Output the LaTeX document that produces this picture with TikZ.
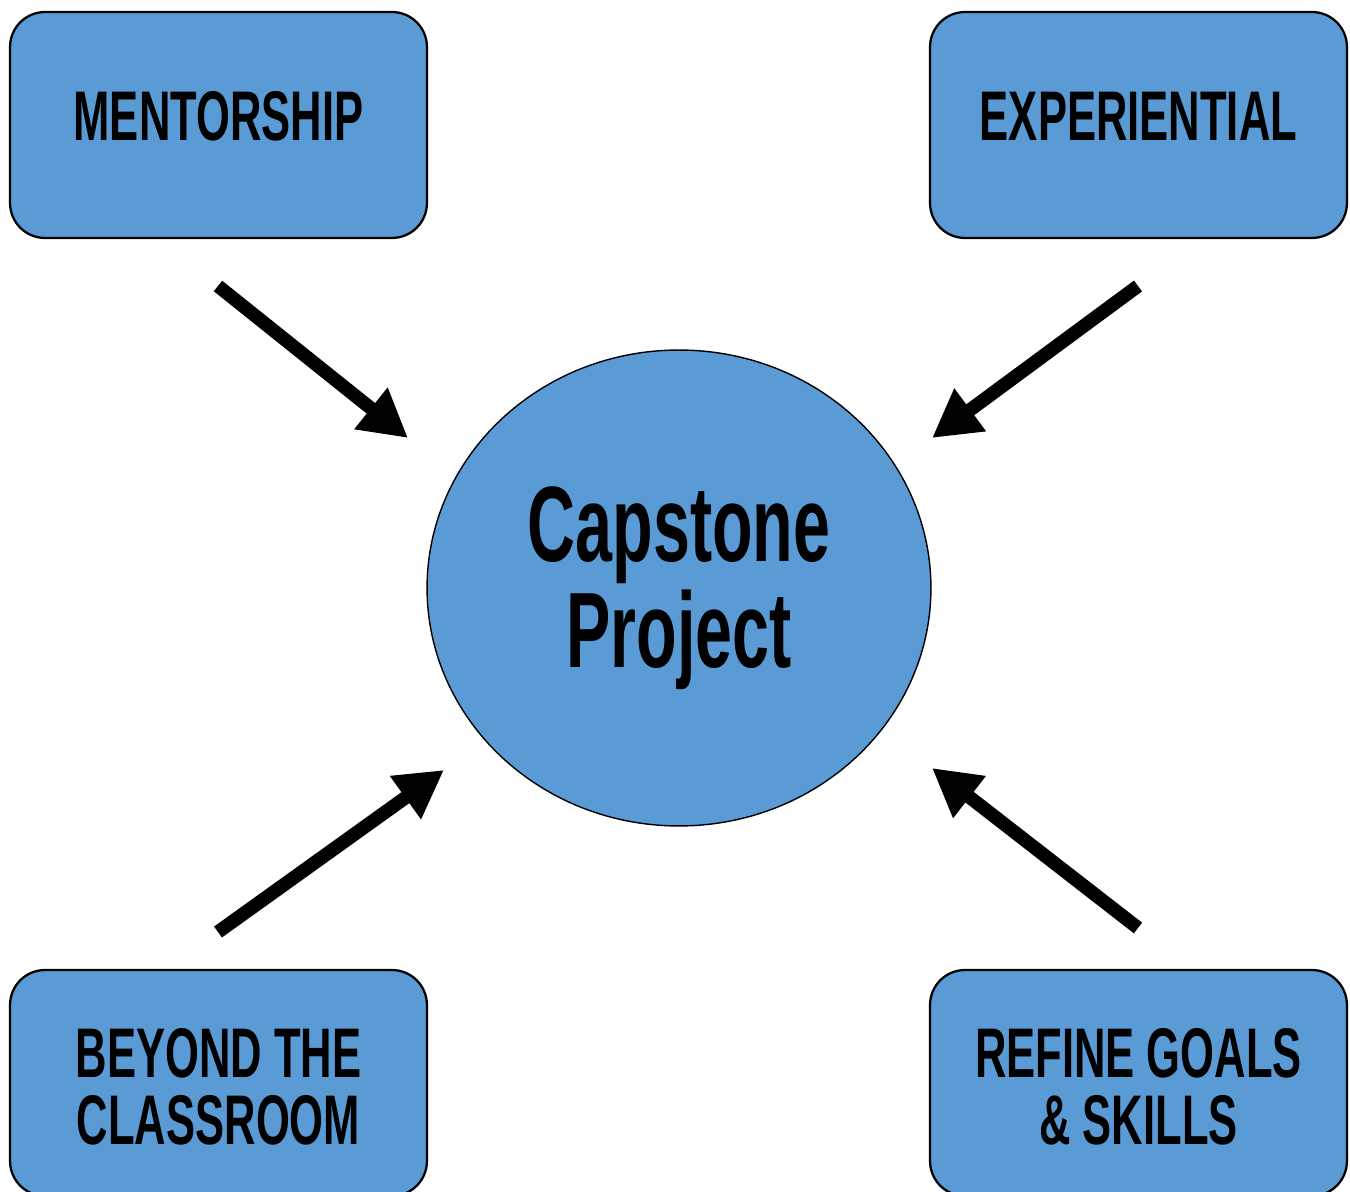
\documentclass[tikz,border=0pt]{standalone}
\usepackage{fontspec}
\setmainfont[FakeStretch=0.62]{Liberation Sans}
\usetikzlibrary{arrows.meta,shapes.geometric}
\definecolor{CapBlue}{HTML}{5B9BD5}

\begin{document}
\begin{tikzpicture}[
    x=0.02cm, y=-0.02cm,
    capbox/.style  = {draw=black, line width=1.3pt, fill=CapBlue, rounded corners=0.7cm,
                      minimum width=8.34cm, minimum height=4.52cm, inner sep=0pt},
    captext/.style = {font=\fontsize{40}{38}\selectfont\bfseries, align=center, inner sep=0pt},
    bigarrow/.style = {line width=0.27cm, -{Triangle[length=0.95cm, width=1.0cm]}},
  ]
\useasboundingbox (0,0) rectangle (1350,1192);

% boxes
\node[capbox] (mentor)  at (218.5,125)  {};
\node[capbox] (exper)   at (1138.5,125) {};
\node[capbox] (beyond)  at (218.5,1083) {};
\node[capbox] (refine)  at (1138.5,1083) {};

\node[captext] (mentor text) at ([yshift=0.18cm]mentor.center) {MENTORSHIP};
\node[captext] (exper text)  at ([yshift=0.18cm]exper.center)  {EXPERIENTIAL};
\node[captext] (beyond text) at ([yshift=-0.08cm]beyond.center) {BEYOND THE\\CLASSROOM};
\node[captext] (refine text) at ([yshift=-0.08cm]refine.center) {REFINE GOALS\\\& SKILLS};

% center
\node[ellipse, draw=black, line width=0.8pt, fill=CapBlue, minimum width=10.08cm,
      minimum height=9.52cm, align=center, font=\fontsize{61}{60}\selectfont\bfseries]
      (capstone) at (679,588) {Capstone\\Project};

% arrow ends
\coordinate (mentor tail) at (218,286);
\coordinate (mentor tip)  at (408,438);
\coordinate (exper tail)  at (1138,286);
\coordinate (exper tip)   at (932,438);
\coordinate (beyond tail) at (218,932);
\coordinate (beyond tip)  at (444,770);
\coordinate (refine tail) at (1138,928);
\coordinate (refine tip)  at (932,768);

\foreach \n in {mentor,exper,beyond,refine}
    \draw[bigarrow] (\n\space tail) -- (\n\space tip);

\end{tikzpicture}
\end{document}
